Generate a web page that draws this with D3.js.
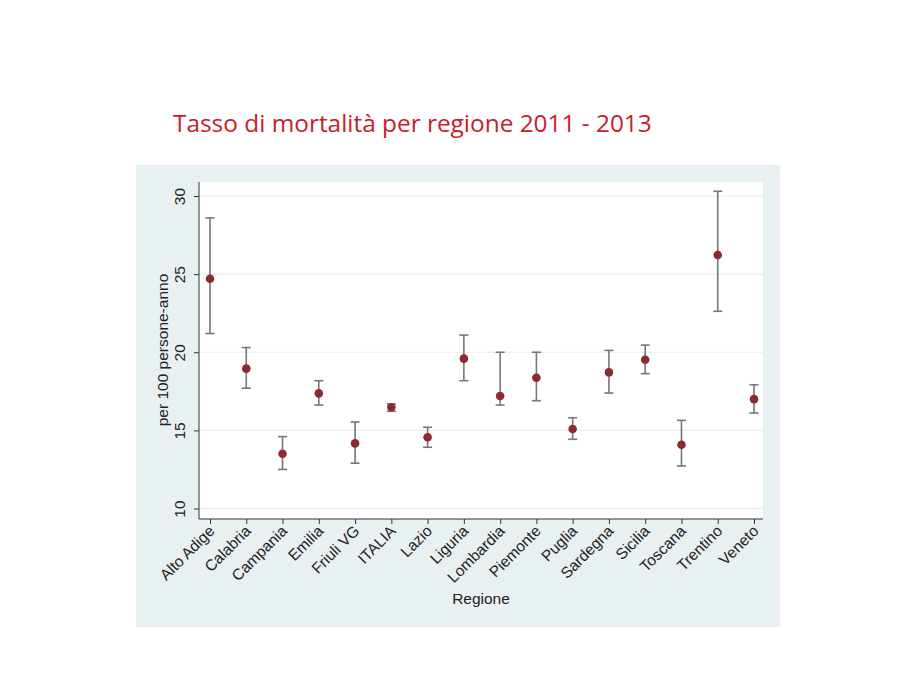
<!DOCTYPE html>
<html><head><meta charset="utf-8">
<script src="https://cdn.jsdelivr.net/npm/d3@7"></script>
<style>body{margin:0;background:#fff;}</style>
</head><body>
<svg id="c" width="900" height="695"></svg>
<script>
const regions = ["Alto Adige","Calabria","Campania","Emilia","Friuli VG","ITALIA","Lazio","Liguria","Lombardia","Piemonte","Puglia","Sardegna","Sicilia","Toscana","Trentino","Veneto"];
const rate  = [24.7, 18.95, 13.5, 17.37, 14.17, 16.48, 14.56, 19.59, 17.2, 18.37, 15.09, 18.71, 19.52, 14.08, 26.22, 17.0];
const lower = [21.2, 17.7, 12.5, 16.62, 12.9, 16.22, 13.92, 18.18, 16.62, 16.9, 14.43, 17.39, 18.63, 12.72, 22.62, 16.11];
const upper = [28.6, 20.3, 14.6, 18.18, 15.54, 16.69, 15.2, 21.1, 20.0, 20.0, 15.81, 20.12, 20.46, 15.64, 30.3, 17.92];
const yTicks = [10, 15, 20, 25, 30];

const svg = d3.select("#c");
const font = "Liberation Sans, Arial, sans-serif";
const fs = 15.5;

// title
svg.append("text").attr("x", 173).attr("y", 132)
  .attr("font-family", "Open Sans, sans-serif").attr("font-size", 24.4)
  .attr("fill", "#c8202a").text("Tasso di mortalità per regione 2011 - 2013");

// graph region
svg.append("rect").attr("x", 136).attr("y", 165).attr("width", 644).attr("height", 462).attr("fill", "#e9f0f2");
// plot region
const L = 199, R = 763, T = 182, B = 519;
svg.append("rect").attr("x", L).attr("y", T).attr("width", R - L).attr("height", B - T).attr("fill", "#fff");

const x = d3.scalePoint().domain(regions).range([210, 754]);
const y = d3.scaleLinear().domain([10, 30]).range([508.5, 196]);

// grid
svg.append("g").selectAll("line").data(yTicks).join("line")
  .attr("x1", L).attr("x2", R).attr("y1", d => y(d)).attr("y2", d => y(d))
  .attr("stroke", "#e6eef0").attr("stroke-width", 1.2);

// y axis
const ya = svg.append("g").attr("transform", `translate(${L},0)`)
  .call(d3.axisLeft(y).tickValues(yTicks).tickSize(5).tickPadding(4));
ya.select(".domain").attr("d", `M0,${T}V${B}`).attr("stroke", "#333");
ya.selectAll(".tick line").attr("stroke", "#333");
ya.selectAll(".tick text").attr("font-family", font).attr("font-size", fs).attr("fill", "#222")
  .attr("x", null).attr("y", null).attr("text-anchor", "middle")
  .attr("transform", "translate(-19,0) rotate(-90)").attr("dy", "0.35em");

// x axis
const xa = svg.append("g").attr("transform", `translate(0,${B})`)
  .call(d3.axisBottom(x).tickSize(5).tickPadding(3));
xa.select(".domain").attr("d", `M${L},0H${R}`).attr("stroke", "#333");
xa.selectAll(".tick line").attr("stroke", "#333");
xa.selectAll(".tick text").attr("font-family", font).attr("font-size", fs).attr("fill", "#222")
  .attr("text-anchor", "end").attr("dy", null).attr("y", null)
  .attr("transform", "translate(5,13) rotate(-45)");

// axis titles
svg.append("text").attr("transform", "translate(168,350) rotate(-90)")
  .attr("text-anchor", "middle").attr("font-family", font).attr("font-size", fs).attr("fill", "#222")
  .text("per 100 persone-anno");
svg.append("text").attr("x", 481).attr("y", 604)
  .attr("text-anchor", "middle").attr("font-family", font).attr("font-size", fs).attr("fill", "#222")
  .text("Regione");

// error bars
const eg = svg.append("g").attr("stroke", "#777").attr("stroke-width", 1.6);
regions.forEach((r, i) => {
  const cx = x(r);
  eg.append("line").attr("x1", cx).attr("x2", cx).attr("y1", y(lower[i])).attr("y2", y(upper[i]));
  eg.append("line").attr("x1", cx - 4.5).attr("x2", cx + 4.5).attr("y1", y(lower[i])).attr("y2", y(lower[i]));
  eg.append("line").attr("x1", cx - 4.5).attr("x2", cx + 4.5).attr("y1", y(upper[i])).attr("y2", y(upper[i]));
});

// points
svg.append("g").selectAll("circle").data(regions).join("circle")
  .attr("cx", d => x(d)).attr("cy", (d, i) => y(rate[i])).attr("r", 4.3)
  .attr("fill", "#8c2a2f");
</script>
</body></html>
